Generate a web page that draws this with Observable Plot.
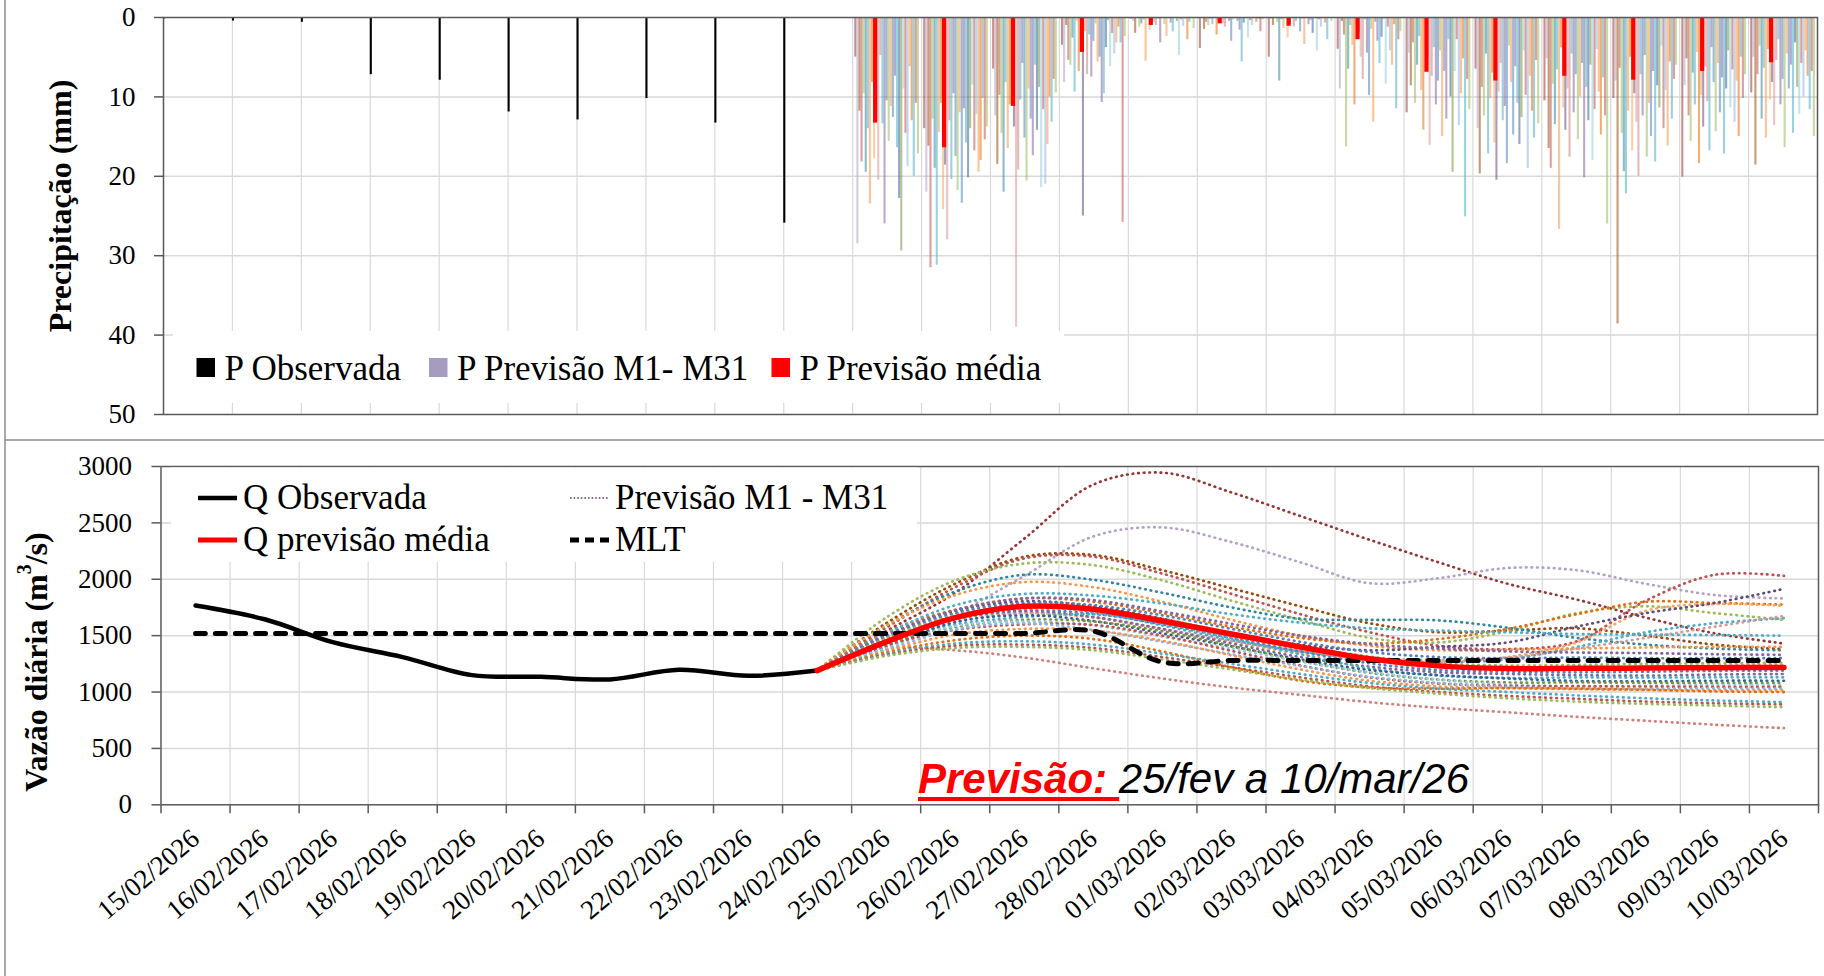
<!DOCTYPE html>
<html><head><meta charset="utf-8">
<script src="https://cdn.jsdelivr.net/npm/d3@7"></script>
<script src="https://cdn.jsdelivr.net/npm/@observablehq/plot@0.6"></script>
<style>
html,body{margin:0;padding:0;background:#fff;}
#wrap{position:relative;width:1824px;height:976px;overflow:hidden;background:#fff;}
.pl{position:absolute;left:0;}
svg.overlay{position:absolute;left:0;top:0;pointer-events:none;}
</style></head><body><div id="wrap"><div id="topPanel" class="pl" style="top:0"></div><div id="botPanel" class="pl" style="top:440px"></div></div>
<script>
// ---------- DATA ----------
const DIAS = ["15/02/2026","16/02/2026","17/02/2026","18/02/2026","19/02/2026","20/02/2026","21/02/2026","22/02/2026","23/02/2026","24/02/2026","25/02/2026","26/02/2026","27/02/2026","28/02/2026","01/03/2026","02/03/2026","03/03/2026","04/03/2026","05/03/2026","06/03/2026","07/03/2026","08/03/2026","09/03/2026","10/03/2026"];

// precipitation observed (15/02..24/02), mm
const P_OBS = [0.2, 0.45, 0.6, 7.2, 7.9, 11.9, 12.9, 10.2, 13.3, 25.9];
// mean forecast precipitation (25/02..10/03), mm
const P_MEDIA = [13.3, 16.4, 11.2, 4.4, 1.0, 0.8, 1.1, 2.8, 6.9, 8.0, 7.4, 7.9, 6.8, 5.7];
// member precipitation, one row per forecast day (25/02..10/03), 31 members each
const P_MEMBROS = [
 [5.0, 28.5, 11.8, 18.2, 9.6, 19.5, 14.0, 23.5, 8.2, 17.8, 12.0, 20.5, 4.8, 13.4, 26.0, 10.5, 15.6, 11.2, 12.6, 7.4, 16.4, 22.8, 29.4, 9.0, 14.6, 18.8, 6.2, 13.0, 20.0, 10.8, 17.2],
 [14.0, 22.0, 16.2, 31.5, 12.8, 19.0, 31.2, 14.5, 10.8, 24.2, 18.6, 28.0, 13.0, 20.4, 9.6, 17.5, 21.8, 12.0, 23.4, 11.5, 15.8, 20.2, 14.0, 8.5, 16.8, 12.2, 19.5, 18.0, 10.2, 15.4, 13.8],
 [6.5, 12.4, 18.5, 9.8, 14.6, 22.0, 8.2, 16.5, 11.0, 7.4, 13.8, 39.0, 19.2, 10.4, 5.8, 15.2, 20.6, 9.0, 12.8, 17.4, 6.0, 14.2, 8.8, 21.4, 11.6, 21.0, 16.0, 10.0, 13.2, 7.8, 9.5],
 [3.5, 8.2, 1.0, 5.4, 6.0, 2.6, 9.4, 0.5, 6.8, 4.0, 25.0, 1.8, 7.2, 2.2, 7.5, 3.0, 0.8, 5.6, 5.0, 10.7, 9.6, 3.8, 0.4, 6.2, 2.0, 4.6, 3.2, 1.2, 3.2, 25.8, 2.4],
 [0.2, 0.5, 2.0, 0.0, 1.2, 0.8, 0.3, 5.5, 0.0, 1.6, 0.4, 0.6, 1.0, 0.2, 3.2, 0.0, 0.9, 2.4, 0.1, 0.7, 1.8, 0.0, 0.5, 4.8, 0.3, 1.1, 0.2, 2.8, 0.6, 0.0, 1.4],
 [3.9, 0.0, 1.5, 0.6, 1.0, 0.2, 0.9, 0.0, 2.2, 0.4, 0.1, 0.8, 1.2, 0.0, 0.5, 3.0, 0.3, 0.0, 0.5, 1.6, 5.6, 0.7, 0.0, 2.6, 0.4, 1.0, 0.0, 0.6, 0.2, 1.8, 0.3],
 [5.0, 0.2, 1.0, 0.0, 0.6, 8.0, 0.3, 1.4, 0.0, 2.6, 0.8, 0.1, 1.2, 0.5, 0.0, 1.8, 0.2, 3.4, 0.0, 0.9, 0.4, 2.0, 0.0, 4.2, 0.3, 1.2, 0.0, 0.7, 2.8, 0.1, 0.5],
 [4.0, 9.0, 0.5, 2.2, 16.3, 6.5, 1.0, 3.5, 11.0, 0.8, 2.0, 5.0, 7.8, 0.3, 4.5, 9.8, 1.5, 13.2, 0.6, 3.0, 5.8, 2.5, 0.2, 8.4, 1.2, 4.2, 6.0, 0.9, 11.5, 2.8, 1.8],
 [12.0, 4.5, 8.6, 3.2, 10.8, 6.0, 2.4, 9.2, 14.2, 5.6, 5.0, 16.1, 7.4, 3.8, 11.0, 8.0, 4.2, 15.0, 6.8, 12.8, 2.8, 10.0, 19.5, 6.8, 2.8, 13.6, 9.6, 5.2, 25.1, 7.8, 11.6],
 [6.5, 14.0, 19.7, 8.8, 12.4, 4.6, 17.2, 10.2, 7.0, 15.8, 20.5, 9.4, 5.8, 13.0, 11.2, 18.4, 3.6, 8.2, 14.8, 6.2, 10.8, 16.0, 12.6, 4.2, 9.8, 19.0, 7.4, 11.8, 15.2, 5.4, 13.4],
 [10.5, 5.2, 16.5, 19.0, 8.4, 13.5, 6.6, 26.7, 3.8, 11.4, 14.2, 9.0, 17.6, 4.6, 12.0, 7.2, 15.4, 10.0, 5.8, 20.2, 8.8, 13.0, 6.0, 18.0, 11.6, 4.0, 9.4, 14.8, 7.6, 12.4, 26.0],
 [10.2, 8.0, 38.6, 6.4, 14.6, 19.4, 22.2, 11.8, 5.0, 16.8, 9.6, 13.2, 20.0, 7.2, 12.4, 4.8, 17.6, 10.8, 15.0, 6.8, 18.2, 8.6, 11.4, 3.6, 14.0, 9.2, 16.2, 5.6, 12.8, 7.8, 6.0],
 [20.1, 8.6, 5.2, 12.4, 15.6, 7.0, 11.0, 4.4, 18.4, 9.8, 13.8, 6.2, 10.6, 16.8, 3.8, 8.2, 14.4, 5.8, 12.0, 7.6, 17.2, 9.0, 4.2, 11.4, 6.6, 13.2, 8.0, 15.0, 5.0, 10.2, 7.2],
 [9.5, 5.0, 18.6, 7.2, 3.6, 12.8, 6.4, 15.2, 4.0, 10.4, 8.2, 13.6, 5.4, 2.8, 11.0, 7.8, 16.4, 4.6, 9.0, 6.0, 14.6, 3.2, 8.8, 12.2, 5.8, 10.0, 4.2, 7.4, 11.6, 6.8, 15.0]
];

// observed flow (15/02..24/02), m3/s
const Q_OBS = [1767, 1645, 1440, 1310, 1150, 1135, 1112, 1197, 1144, 1190];
// mean forecast flow (24/02..10/03)
const Q_MEDIA = [1190, 1445, 1660, 1760, 1735, 1630, 1515, 1400, 1295, 1232, 1208, 1210, 1213, 1216, 1218];
// long-term mean (15/02..10/03)
const MLT = [1520,1520,1520,1520,1520,1520,1520,1520,1520,1520,1520,1520,1520,1540,1265,1280,1280,1280,1280,1280,1280,1280,1280,1280];
// member flows (24/02..10/03), 31 members
const Q_MEMBROS = [
 [1190,1540,1880,2360,2840,2945,2770,2560,2350,2150,1960,1820,1660,1520,1430],
 [1190,1420,1690,2030,2380,2460,2330,2150,1965,2010,2100,2080,1960,1860,1830],
 [1190,1610,1960,2200,2215,2080,1920,1760,1610,1530,1545,1565,1500,1420,1380],
 [1190,1570,1930,2185,2200,2050,1870,1690,1530,1410,1380,1450,1810,2040,2030],
 [1190,1660,1990,2140,2125,1990,1810,1640,1480,1440,1540,1700,1760,1700,1640],
 [1190,1590,1890,2040,1995,1880,1750,1650,1640,1635,1570,1480,1420,1385,1370],
 [1190,1470,1680,1760,1710,1590,1460,1360,1290,1265,1290,1400,1530,1610,1655],
 [1190,1590,1860,1975,1930,1800,1640,1500,1410,1370,1375,1385,1395,1400,1400],
 [1190,1530,1730,1830,1800,1700,1580,1480,1430,1470,1560,1690,1800,1790,1775],
 [1190,1480,1650,1700,1660,1555,1440,1340,1280,1265,1310,1440,1720,1780,1765],
 [1190,1500,1720,1805,1760,1650,1520,1420,1370,1400,1440,1580,1700,1790,1915],
 [1190,1450,1620,1700,1665,1560,1450,1360,1300,1285,1305,1385,1480,1580,1675],
 [1190,1385,1370,1305,1210,1120,1040,975,910,860,820,780,745,710,680],
 [1190,1520,1770,1870,1855,1785,1690,1615,1565,1545,1530,1515,1510,1505,1500],
 [1190,1505,1725,1830,1815,1715,1605,1500,1425,1385,1360,1350,1345,1335,1330],
 [1190,1490,1700,1790,1770,1680,1560,1445,1355,1310,1300,1305,1300,1300,1300],
 [1190,1475,1680,1765,1740,1650,1525,1410,1315,1255,1235,1240,1250,1255,1260],
 [1190,1460,1665,1740,1720,1615,1495,1380,1280,1220,1200,1215,1225,1235,1240],
 [1190,1445,1645,1720,1695,1600,1480,1360,1255,1195,1180,1175,1180,1188,1190],
 [1190,1420,1650,1720,1665,1560,1430,1310,1225,1175,1160,1150,1145,1155,1160],
 [1190,1460,1600,1665,1690,1610,1475,1335,1210,1145,1125,1130,1128,1130,1130],
 [1190,1400,1620,1680,1630,1520,1405,1290,1195,1150,1120,1098,1095,1100,1100],
 [1190,1435,1575,1640,1625,1540,1410,1275,1170,1110,1085,1085,1082,1080,1080],
 [1190,1390,1585,1625,1590,1490,1385,1270,1175,1110,1065,1050,1055,1062,1060],
 [1190,1415,1550,1600,1595,1500,1365,1235,1130,1075,1055,1052,1048,1045,1045],
 [1190,1375,1555,1610,1550,1445,1335,1230,1135,1080,1045,1030,1030,1032,1030],
 [1190,1365,1510,1560,1545,1455,1325,1200,1100,1050,1035,1025,1018,1015,1015],
 [1190,1350,1460,1500,1470,1360,1220,1100,1040,1030,1035,1030,1020,1005,1000],
 [1190,1340,1430,1450,1420,1340,1250,1160,1080,1030,1000,970,945,925,910],
 [1190,1330,1410,1420,1390,1310,1220,1130,1050,1000,965,940,915,900,890],
 [1190,1320,1390,1400,1370,1290,1200,1110,1035,985,945,915,895,880,865]
];
const CORES = ["#953735","#B3A2C7","#984807","#C0504D","#9BBB59","#31859C","#4BACC6","#F79646","#E46C0A","#F9A55F","#604A7B","#D99694","#D0807D","#4BACC6","#8064A2","#4F81BD","#9BBB59","#F79646","#4F81BD","#8064A2","#4BACC6","#376092","#77933C","#93CDDD","#C0504D","#8EB4E3","#F79646","#E46C0A","#4BACC6","#C0504D","#9BBB59"];

const Y_TICKS_P = [0, 10, 20, 30, 40, 50];
const Y_TICKS_Q = [0, 500, 1000, 1500, 2000, 2500, 3000];
const LEG_P = ["P Observada", "P Previsão M1- M31", "P Previsão média"];
const LEG_Q = ["Q Observada", "Q previsão média", "Previsão M1 - M31", "MLT"];

// ---------- derived tables ----------
const N_SLOTS = 33;
const FIRST_FC = 10; // index of 25/02
const obsBars = P_OBS.map((v, i) => ({x1: i, x2: i + 1 / N_SLOTS, y1: 0, v}));
const memBars = P_MEMBROS.flatMap((row, d) => row.map((v, m) => ({
  x1: FIRST_FC + d + (m + 1) / N_SLOTS, x2: FIRST_FC + d + (m + 2) / N_SLOTS, y1: 0, v, cor: CORES[m]})));
const meanBars = P_MEDIA.map((v, d) => ({x1: FIRST_FC + d + 10 / N_SLOTS, x2: FIRST_FC + d + 12 / N_SLOTS, y1: 0, v}));

const qObs = Q_OBS.map((v, i) => ({x: i + 0.5, v}));
const qMlt = MLT.map((v, i) => ({x: i + 0.5, v}));
const qMed = Q_MEDIA.map((v, k) => ({x: FIRST_FC - 1 + k + 0.5, v}));
const qMem = Q_MEMBROS.flatMap((row, m) => row.map((v, k) => ({x: FIRST_FC - 1 + k + 0.5, v, m, cor: CORES[m]})));

const FONT = "'Liberation Serif', 'Times New Roman', serif";
const GRID = "#d9d9d9", AXIS = "#595959";
const fmtInt = d3.format("d");

// ---------- top chart: precipitation ----------
const chartP = Plot.plot({
  width: 1824, height: 440,
  marginLeft: 163, marginRight: 7, marginTop: 17, marginBottom: 26,
  x: {domain: [0, 24], axis: null, label: null},
  y: {domain: [0, 50], reverse: true, label: null},
  color: {type: "identity"},
  style: {fontFamily: FONT, fontSize: "27px", color: "#000", background: "transparent", overflow: "visible"},
  marks: [
    Plot.ruleY([10, 20, 30, 40], {stroke: GRID, strokeWidth: 1.5}),
    Plot.ruleX(d3.range(1, 24), {stroke: GRID, strokeWidth: 1.2}),
    Plot.rect(memBars, {x1: "x1", x2: "x2", y1: "y1", y2: "v", fill: "cor", fillOpacity: 0.55}),
    Plot.rect(meanBars, {x1: "x1", x2: "x2", y1: "y1", y2: "v", fill: "#ff0000"}),
    Plot.rect(obsBars, {x1: "x1", x2: "x2", y1: "y1", y2: "v", fill: "#000"}),
    Plot.frame({stroke: AXIS, strokeWidth: 1.5}),
    Plot.axisY({ticks: Y_TICKS_P, tickFormat: fmtInt, tickSize: 9, tickPadding: 19, stroke: AXIS, strokeWidth: 1.5, fill: "#000", fontSize: 27, label: null})
  ]
});
document.getElementById("topPanel").appendChild(chartP);

// ---------- bottom chart: flow ----------
const chartQ = Plot.plot({
  width: 1824, height: 536,
  marginLeft: 160.5, marginRight: 6, marginTop: 26, marginBottom: 171.7,
  x: {domain: [0, 24], label: null},
  y: {domain: [0, 3000], label: null},
  color: {type: "identity"},
  style: {fontFamily: FONT, fontSize: "27px", color: "#000", background: "transparent", overflow: "visible"},
  marks: [
    Plot.ruleY([500, 1000, 1500, 2000, 2500], {stroke: GRID, strokeWidth: 1.5}),
    Plot.ruleX(d3.range(1, 24), {stroke: GRID, strokeWidth: 1.2}),
    Plot.line(qMem, {x: "x", y: "v", z: "m", stroke: "cor", strokeWidth: 2.7, strokeDasharray: "0.6 5", strokeLinecap: "round", curve: "catmull-rom"}),
    Plot.line(qMlt, {x: "x", y: "v", stroke: "#000", strokeWidth: 5, strokeDasharray: "10 10", strokeLinecap: "round", curve: "catmull-rom"}),
    Plot.line(qObs, {x: "x", y: "v", stroke: "#000", strokeWidth: 4.5, curve: "catmull-rom"}),
    Plot.line(qMed, {x: "x", y: "v", stroke: "#ff0000", strokeWidth: 5.5, curve: "catmull-rom"}),
    Plot.frame({stroke: AXIS, strokeWidth: 1.5}),
    Plot.axisY({ticks: Y_TICKS_Q, tickFormat: fmtInt, tickSize: 9, tickPadding: 20, stroke: AXIS, strokeWidth: 1.5, fill: "#000", fontSize: 27, label: null}),
    Plot.axisX({ticks: d3.range(0, 25), tickSize: 9, tickFormat: () => "", stroke: AXIS, strokeWidth: 1.5, label: null}),
    Plot.axisX({ticks: d3.range(24).map(i => i + 0.5), tickSize: 0, tickPadding: 30, tickRotate: -40,
      tickFormat: v => DIAS[Math.floor(v)], fill: "#000", fontSize: 27, label: null})
  ]
});
document.getElementById("botPanel").appendChild(chartQ);

// ---------- overlay: panel borders, legends, titles, annotation ----------
const ov = d3.select("#wrap").append("svg").attr("class", "overlay").attr("width", 1824).attr("height", 976)
  .style("font-family", FONT);
ov.append("line").attr("x1", 5).attr("x2", 5).attr("y1", 0).attr("y2", 976).attr("stroke", "#8c8c8c").attr("stroke-width", 1.5);
ov.append("line").attr("x1", 5).attr("x2", 1824).attr("y1", 440).attr("y2", 440).attr("stroke", "#8c8c8c").attr("stroke-width", 1.5);

// top legend
ov.append("rect").attr("x", 173).attr("y", 331).attr("width", 891).attr("height", 72).attr("fill", "#fff");
const legPCol = ["#000", "#A69CC0", "#ff0000"];
const legPX = [196.5, 429, 771.5];
LEG_P.forEach((t, i) => {
  ov.append("rect").attr("x", legPX[i]).attr("y", 358).attr("width", 18.5).attr("height", 19).attr("fill", legPCol[i]);
  ov.append("text").attr("x", legPX[i] + 28).attr("y", 380).attr("font-size", 35).attr("fill", "#000").text(t);
});

// bottom legend
ov.append("rect").attr("x", 171).attr("y", 467.5).attr("width", 746).attr("height", 94.5).attr("fill", "#fff");
const legQ = [
  {x: 198, y: 498, stroke: "#000", w: 4.5, dash: null},
  {x: 198, y: 540, stroke: "#ff0000", w: 5, dash: null},
  {x: 570, y: 498, stroke: "#7E6BA8", w: 2, dash: "1.6 2"},
  {x: 570, y: 540, stroke: "#000", w: 5, dash: "9 6"}
];
LEG_Q.forEach((t, i) => {
  const s = legQ[i];
  const ln = ov.append("line").attr("x1", s.x).attr("x2", s.x + 39).attr("y1", s.y).attr("y2", s.y)
    .attr("stroke", s.stroke).attr("stroke-width", s.w);
  if (s.dash) ln.attr("stroke-dasharray", s.dash);
  ov.append("text").attr("x", s.x + 45).attr("y", s.y + 11).attr("font-size", 35).attr("fill", "#000").text(t);
});

// axis titles
ov.append("text").attr("transform", "translate(60,206) rotate(-90)").attr("text-anchor", "middle")
  .attr("dominant-baseline", "central").attr("font-size", 32).attr("font-weight", "bold").text("Precipitação (mm)");
const tq = ov.append("text").attr("transform", "translate(36,662) rotate(-90)").attr("text-anchor", "middle")
  .attr("dominant-baseline", "central").attr("font-size", 32).attr("font-weight", "bold");
tq.append("tspan").text("Vazão diária (m");
tq.append("tspan").attr("font-size", 20).attr("dy", -12).text("3");
tq.append("tspan").attr("dy", 12).text("/s)");

// annotation
const an = ov.append("text").attr("x", 918).attr("y", 793).attr("font-family", "'Liberation Sans', Arial, sans-serif")
  .attr("font-size", 42).attr("font-style", "italic");
const t1 = an.append("tspan").attr("fill", "#ff0000").attr("font-weight", "bold").text("Previsão:");
an.append("tspan").attr("fill", "#000").text(" 25/fev a 10/mar/26");
const w1 = t1.node().getComputedTextLength();
ov.append("rect").attr("x", 918).attr("y", 797).attr("width", w1 + 12).attr("height", 4).attr("fill", "#ff0000");
</script></body></html>
